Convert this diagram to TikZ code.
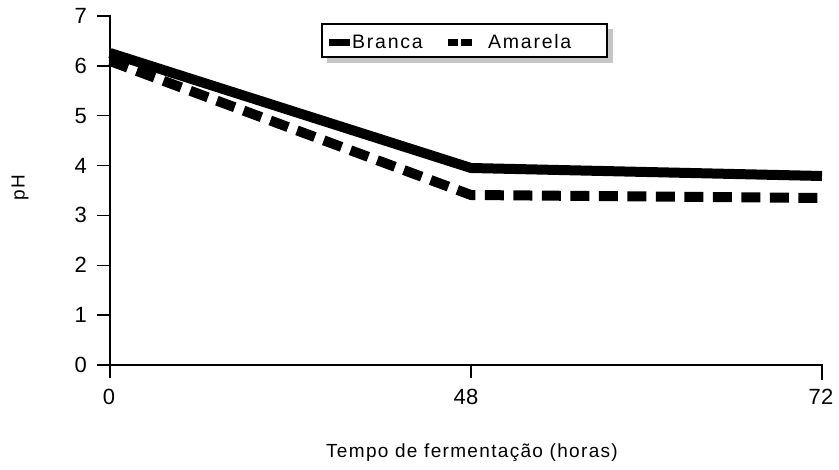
\documentclass[tikz,border=0pt]{standalone}
\usepackage{fontspec}
\setmainfont{Liberation Sans}
\newfontfamily\lblfont[LetterSpace=7]{Liberation Sans}
\newfontfamily\legfont[LetterSpace=9]{Liberation Sans}
\newfontfamily\tickfont[LetterSpace=1]{Liberation Sans}
\begin{document}
\begin{tikzpicture}[x=1pt,y=-1pt,
  axisline/.style={line width=1.5pt,line cap=rect},
  tickline/.style={line width=1.5pt},
  ticklbl/.style={font=\tickfont\fontsize{22}{22}\selectfont,inner sep=0pt},
  legtext/.style={font=\legfont\fontsize{19.5}{19.5}\selectfont,inner sep=0pt,anchor=west},
  titletext/.style={font=\lblfont\fontsize{19}{19}\selectfont,inner sep=0pt},
  branca/.style={line width=10pt,line join=miter},
  amarela/.style={line width=10pt,dash pattern=on 19pt off 9.5pt},
  legbox/.style={draw,line width=1.5pt,fill=white},
  legshadow/.style={fill=gray!45}]
\useasboundingbox (0,0) rectangle (839,470);
% axes
\coordinate (ytop) at (110,16);
\coordinate (ybot) at (110,377);
\coordinate (o) at (110,365);
\coordinate (xend) at (822,365);
\draw[axisline] (ytop) -- (ybot);
\draw[axisline] (o) -- (xend);
% y ticks and labels
\foreach \v in {0,...,7}{
  \coordinate (yt\v) at (110,{365-49.86*\v});
  \coordinate (yl\v) at (97,{365-49.86*\v});
  \draw[tickline] (yl\v) -- (yt\v);
  \node[ticklbl,anchor=east] (ylab\v) at (87,{365-49.86*\v}) {\v};
}
% x ticks and labels
\coordinate (x48) at (471,365);
\coordinate (x48b) at (471,378);
\coordinate (x72) at (822,365);
\coordinate (x72b) at (822,380);
\draw[tickline] (x48) -- (x48b);
\draw[tickline] (x72) -- (x72b);
\node[ticklbl] (xl0) at (109,397) {0};
\node[ticklbl] (xl48) at (466,397) {48};
\node[ticklbl] (xl72) at (821,397) {72};
% axis titles
\node[titletext,rotate=90] (ytitle) at (20,188) {pH};
\node[titletext] (xtitle) at (472,453) {Tempo de fermentação (horas)};
% data
\coordinate (b0) at (110,53);
\coordinate (b48) at (471,168);
\coordinate (b72) at (822,176);
\coordinate (a0) at (110,61);
\coordinate (a48) at (471,195);
\coordinate (a72) at (822,198);
\draw[branca] (b0) -- (b48) -- (b72);
\draw[amarela] (a0) -- (a48) -- (a72);
% legend
\fill[legshadow] (327,57) rectangle (613,63);
\fill[legshadow] (607,29) rectangle (613,63);
\draw[legbox] (322,24) rectangle (607,57);
\coordinate (ls1) at (329,43);
\coordinate (ls2) at (350,43);
\draw[line width=7pt] (ls1) -- (ls2);
\fill (448,39.5) rectangle (458,46.5);
\fill (461,39.5) rectangle (472,46.5);
\node[legtext] (lb) at (352,41.5) {Branca};
\node[legtext] (la) at (488,41.5) {Amarela};
\end{tikzpicture}
\end{document}
